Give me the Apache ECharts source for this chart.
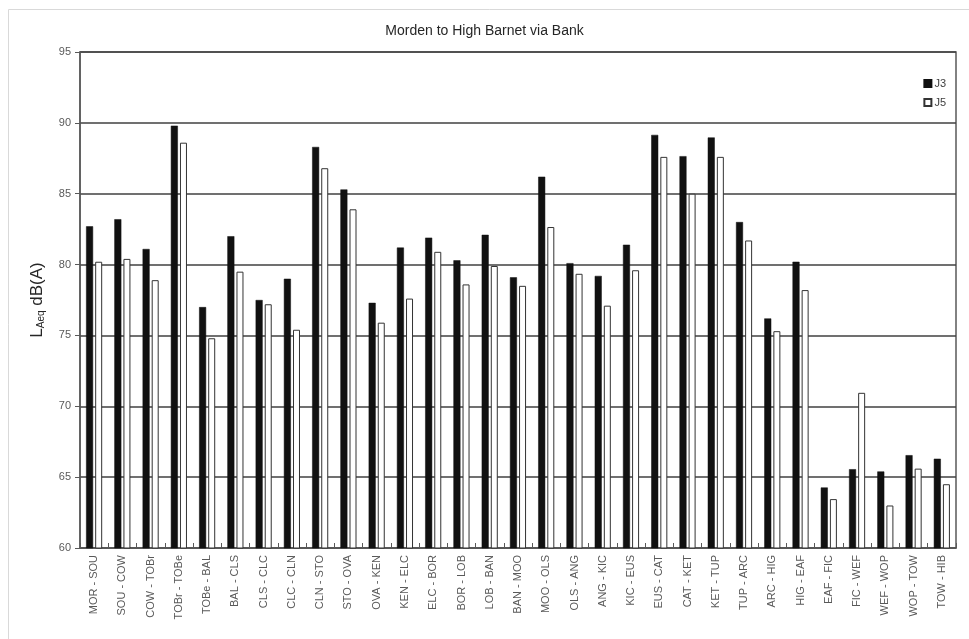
<!DOCTYPE html>
<html>
<head>
<meta charset="utf-8">
<script src="https://cdn.jsdelivr.net/npm/echarts@6/dist/echarts.min.js"></script>
<style>html,body{margin:0;padding:0;background:#fff}#c{width:969px;height:639px}</style>
</head>
<body>
<div id="c"></div>
<script>
const categories = ["MOR - SOU","SOU - COW","COW - TOBr","TOBr - TOBe","TOBe - BAL","BAL - CLS","CLS - CLC","CLC - CLN","CLN - STO","STO - OVA","OVA - KEN","KEN - ELC","ELC - BOR","BOR - LOB","LOB - BAN","BAN - MOO","MOO - OLS","OLS - ANG","ANG - KIC","KIC - EUS","EUS - CAT","CAT - KET","KET - TUP","TUP - ARC","ARC - HIG","HIG - EAF","EAF - FIC","FIC - WEF","WEF - WOP","WOP - TOW","TOW - HIB"];
const j3 = [82.7,83.2,81.1,89.8,77.0,82.0,77.5,79.0,88.3,85.3,77.3,81.2,81.9,80.3,82.1,79.1,86.2,80.1,79.2,81.4,89.15,87.65,88.97,83.0,76.2,80.2,64.27,65.56,65.4,66.55,66.3];
const j5 = [80.2,80.4,78.9,88.6,74.8,79.5,77.2,75.4,86.8,83.9,75.9,77.6,80.9,78.6,79.9,78.5,82.65,79.35,77.1,79.6,87.6,85.0,87.6,81.7,75.3,78.2,63.45,70.95,63.0,65.6,64.5];
const yTicks = {min: 60, max: 95, interval: 5};

const chart = echarts.init(document.getElementById('c'));
const font = '"Liberation Sans", Arial, sans-serif';
chart.setOption({
  animation: false,
  graphic: [{
    type: 'rect', left: 6, top: 7,
    shape: {width: 975, height: 650},
    style: {fill: 'none', stroke: '#d9d9d9', lineWidth: 1}, silent: true
  }],
  title: {
    text: 'Morden to High Barnet via Bank', left: 'center', top: 19,
    textStyle: {fontFamily: font, fontSize: 14, fontWeight: 'normal', color: '#262626'}
  },
  legend: {
    orient: 'vertical', right: 18, top: 73, itemGap: 8,
    itemWidth: 7, itemHeight: 7, icon: 'rect',
    textStyle: {fontFamily: font, fontSize: 11, color: '#404040', padding: [0,0,0,-2]},
    data: ['J3', 'J5']
  },
  grid: {left: 80, right: 13, top: 52, bottom: 91, show: true, borderColor: '#595959', borderWidth: 1.5},
  xAxis: {
    type: 'category', data: categories,
    axisLine: {show: true, lineStyle: {color: '#595959', width: 1.5}},
    axisTick: {show: true, inside: true, length: 5, lineStyle: {color: '#595959'}},
    axisLabel: {rotate: 90, interval: 0, fontFamily: font, fontSize: 11, color: '#595959', margin: 7}
  },
  yAxis: {
    type: 'value', min: yTicks.min, max: yTicks.max, interval: yTicks.interval,
    name: '{l|L}{s|Aeq}{l| dB(A)}', nameLocation: 'middle', nameGap: 34, nameRotate: 90,
    nameTextStyle: {rich: {
      l: {fontFamily: font, fontSize: 17, color: '#262626'},
      s: {fontFamily: font, fontSize: 10, color: '#262626', verticalAlign: 'bottom', padding: [7,0,0,0]}
    }},
    axisLine: {show: true, lineStyle: {color: '#595959', width: 1.5}},
    axisTick: {show: true, length: 5, lineStyle: {color: '#595959'}},
    axisLabel: {fontFamily: font, fontSize: 11, color: '#595959', margin: 9},
    splitLine: {lineStyle: {color: '#404040', width: 1.5}}
  },
  series: [
    {name: 'J3', type: 'bar', data: j3, barWidth: 7, barGap: '30%',
     itemStyle: {color: '#111111', borderColor: '#111111', borderWidth: 0.5}},
    {name: 'J5', type: 'bar', data: j5, barWidth: 7,
     itemStyle: {color: '#ffffff', borderColor: '#333333', borderWidth: 1}}
  ]
});
</script>
</body>
</html>
